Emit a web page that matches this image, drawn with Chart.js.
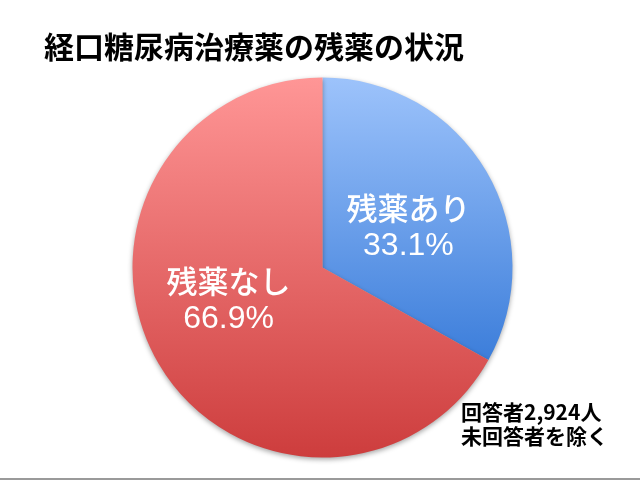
<!DOCTYPE html>
<html>
<head>
<meta charset="utf-8">
<script src="https://cdn.jsdelivr.net/npm/chart.js@4"></script>
<style>
  html, body { margin: 0; padding: 0; background: #fff; }
  #wrap { position: relative; width: 640px; height: 480px; }
  #wrap::after { content: ''; position: absolute; left: 0; right: 0; bottom: 0; height: 2px; background: #9a9a9a; }
</style>
</head>
<body>
<div id="wrap"><canvas id="chart" width="640" height="480"></canvas></div>
<script>
// 経口糖尿病治療薬の残薬の状況 — pie chart

const TITLE = '経口糖尿病治療薬の残薬の状況';
const categories = ['残薬あり', '残薬なし'];
const shares = [33.1, 66.9];
const noteLines = ['回答者2,924人', '未回答者を除く'];

const FONT = '"Noto Sans CJK JP", "Noto Sans", sans-serif';
// top / bottom colours of each slice's gradient
const GRAD = [
  ['#9dc3fb', '#3b7dda'],
  ['#ff9696', '#cd3d3d'],
];
// nudges from the arc centroid to where the labels sit
const LABEL_NUDGE = [[4, 8], [-12, -15]];

function sliceFill(ctx) {
  const chart = ctx.chart;
  const area = chart.chartArea;
  if (!area) return GRAD[ctx.dataIndex][0];
  const cy = (area.top + area.bottom) / 2;
  const r = (area.bottom - area.top) / 2;
  const bottom = ctx.dataIndex === 0 ? cy + r * 0.5 : area.bottom;
  const g = chart.ctx.createLinearGradient(0, area.top, 0, bottom);
  g.addColorStop(0, GRAD[ctx.dataIndex][0]);
  g.addColorStop(1, GRAD[ctx.dataIndex][1]);
  return g;
}

const shadowPlugin = {
  id: 'pieShadow',
  beforeDatasetsDraw(chart) {
    const c = chart.ctx;
    c.save();
    c.shadowColor = 'rgba(0,0,0,0.35)';
    c.shadowBlur = 5;
    c.shadowOffsetY = 2;
  },
  afterDatasetsDraw(chart) {
    chart.ctx.restore();
  },
};

const textPlugin = {
  id: 'texts',
  afterDraw(chart) {
    const c = chart.ctx;
    c.save();
    // title
    c.fillStyle = '#000';
    c.font = `bold 30px ${FONT}`;
    c.textAlign = 'left';
    c.textBaseline = 'middle';
    c.fillText(TITLE, 44, 47);

    // slice labels
    const meta = chart.getDatasetMeta(0);
    c.fillStyle = '#fff';
    c.textAlign = 'center';
    meta.data.forEach((arc, i) => {
      const p = arc.tooltipPosition();
      const x = p.x + LABEL_NUDGE[i][0];
      const y = p.y + LABEL_NUDGE[i][1];
      c.font = `500 31px ${FONT}`;
      c.fillText(categories[i], x, y - 19);
      c.font = `32px "Liberation Sans Narrow", "Liberation Sans", sans-serif`;
      c.fillText(shares[i].toFixed(1) + '%', x, y + 19);
    });

    // respondent note
    c.fillStyle = '#000';
    c.textAlign = 'left';
    c.font = `bold 21px ${FONT}`;
    noteLines.forEach((t, i) => c.fillText(t, 461, 412 + i * 24));
    c.restore();
  },
};

new Chart(document.getElementById('chart'), {
  type: 'pie',
  data: {
    labels: categories,
    datasets: [{
      data: shares,
      backgroundColor: sliceFill,
      borderWidth: 0,
    }],
  },
  options: {
    responsive: false,
    animation: false,
    layout: { padding: { top: 77.5, bottom: 22.5, left: 132.5, right: 127.5 } },
    plugins: {
      legend: { display: false },
      tooltip: { enabled: false },
    },
  },
  plugins: [shadowPlugin, textPlugin],
});
</script>
</body>
</html>
